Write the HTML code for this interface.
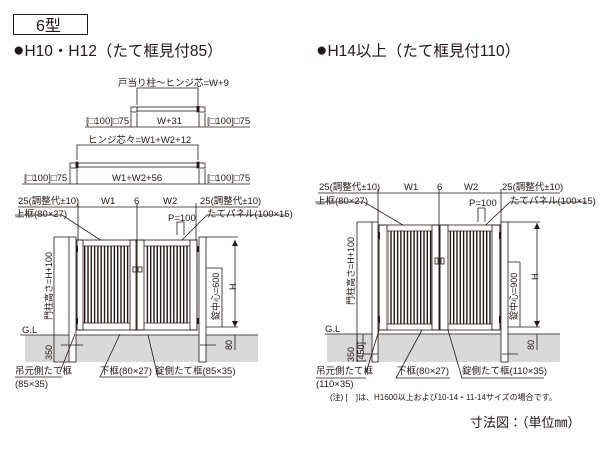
<!DOCTYPE html>
<html><head><meta charset="utf-8"><style>
body{margin:0;background:#fff}
svg{display:block}
text{font-family:"Liberation Sans","Noto Sans CJK JP",sans-serif;fill:#231815}
</style></head><body>
<svg width="600" height="450" viewBox="0 0 600 450" xmlns="http://www.w3.org/2000/svg">
<defs>
<pattern id="sl" x="84" y="0" width="3.3" height="10" patternUnits="userSpaceOnUse"><rect x="0" y="0" width="1.4" height="10" fill="#231815"/></pattern>
<pattern id="sl2" x="387" y="0" width="3.3" height="10" patternUnits="userSpaceOnUse"><rect x="0" y="0" width="1.4" height="10" fill="#231815"/></pattern>
</defs>
<rect x="13.5" y="14.5" width="74" height="20" fill="none" stroke="#231815" stroke-width="1"/>
<text x="36" y="31" font-size="16">6型</text>
<text x="13" y="56" font-size="15.5"><tspan font-size="19">●</tspan>H10・H12（たて框見付85）</text>
<text x="316" y="56" font-size="15.5"><tspan font-size="19">●</tspan>H14以上（たて框見付110）</text>

<g stroke="#231815" fill="none" stroke-width="0.8">
<path d="M137 105V88H198V105"/>
<rect x="137" y="107" width="62" height="4"/>
<rect x="131" y="107" width="6" height="5" fill="#fff"/>
<rect x="199" y="107" width="6" height="5" fill="#fff"/>
<rect x="197" y="106" width="2" height="6" fill="#231815"/>
<path d="M85 127H250M131 113V127M137 113V127M199 113V127M205 113V127"/>
<path d="M77 160V145H198V160"/>
<rect x="77" y="163" width="122" height="4"/>
<rect x="70" y="163" width="6" height="5" fill="#fff"/>
<rect x="199" y="163" width="6" height="5" fill="#fff"/>
<rect x="76" y="162" width="2" height="6" fill="#231815"/><rect x="197" y="162" width="2" height="6" fill="#231815"/>
<path d="M22 184H250M70 169V184M77 169V184M199 169V184M205 169V184"/>
</g>
<g font-size="9.5">
<text x="118" y="86">戸当り柱～ヒンジ芯=W+9</text>
<text x="86" y="124">[□100]□75</text><text x="157" y="124">W+31</text><text x="207" y="124">[□100]□75</text>
<text x="88" y="143">ヒンジ芯々=W1+W2+12</text>
<text x="24" y="181">[□100]□75</text><text x="112" y="181">W1+W2+56</text><text x="207" y="181">[□100]□75</text>
</g>

<rect x="25" y="335" width="233" height="27" fill="#d9d9d9"/>
<g stroke="#231815" fill="none" stroke-width="0.8">
<path d="M18 207H258M78 203V240M137 203V240M196 203V240"/>
<path d="M15 215H62L105 243M287 215H207L172 250"/>
<path d="M20 335H258"/>
<path d="M54 237V362M54 237H69M54 362H69"/>
<rect x="69" y="237" width="7" height="125" fill="#fff"/>
<rect x="199" y="237" width="7" height="125" fill="#fff"/>
<rect x="77" y="240" width="59" height="90" fill="#fff"/>
<rect x="137" y="240" width="60" height="90" fill="#fff"/>
<rect x="77" y="240" width="6" height="90"/>
<rect x="190" y="240" width="7" height="90"/>
<rect x="130" y="240" width="7" height="90"/>
<rect x="137" y="240" width="7" height="90"/>
<path d="M83 246H130M83 323H130M144 246H190M144 323H190"/>
<rect x="133" y="267" width="4" height="5"/><rect x="138" y="267" width="4" height="5"/>
<path d="M206 237H238M206 327H238M235 240V327M206 268H222M222 268V327"/>
<path d="M235 335V350M200 345H216"/>
<path d="M177 235V222H184V235"/>
<path d="M75 334L60 372M15 377H62M120 334L100 377H148M148 335L158 377H232"/>
<path d="M61 345H83"/>
</g>
<rect x="84" y="246" width="46" height="77" fill="url(#sl)"/>
<rect x="145" y="246" width="45" height="77" fill="url(#sl)"/>
<rect x="76" y="246" width="2" height="6" fill="#231815"/><rect x="76" y="318" width="2" height="6" fill="#231815"/>
<rect x="197" y="246" width="2" height="6" fill="#231815"/><rect x="197" y="318" width="2" height="6" fill="#231815"/>
<path d="M235 240l-3 6h6zM235 327l-3-6h6z" fill="#231815"/>
<g font-size="9.5">
<text x="18" y="204">25(調整代±10)</text><text x="101" y="204">W1</text><text x="134" y="204">6</text><text x="163" y="204">W2</text><text x="200" y="204">25(調整代±10)</text>
<text x="15" y="217">上框(80×27)</text><text x="207" y="217">たてパネル(100×15)</text>
<text x="168" y="221">P=100</text>
<text x="22" y="333">G.L</text>
<text x="15" y="374">吊元側たて框</text><text x="15" y="387">(85×35)</text>
<text x="100" y="374">下框(80×27)</text><text x="155" y="374">錠側たて框(85×35)</text>
<text transform="translate(52,320) rotate(-90)" font-size="9">門柱高さ=H+100</text>
<text transform="translate(52,360) rotate(-90)" font-size="9">350</text>
<text transform="translate(232,350) rotate(-90)" font-size="9">80</text>
<text transform="translate(236,290) rotate(-90)" font-size="9">H</text>
<text transform="translate(219,320) rotate(-90)" font-size="9">錠中心=600</text>
</g>

<rect x="327" y="334" width="233" height="28" fill="#d9d9d9"/>
<g stroke="#231815" fill="none" stroke-width="0.8">
<path d="M318 193H560M378 189V225M439 189V225M501 189V225"/>
<path d="M315 202H364L408 228M587 202H510L475 235"/>
<path d="M325 334H560"/>
<path d="M357 222V362M357 222H372"/>
<path d="M357 334V362M363 334V350"/>
<rect x="372" y="222" width="6" height="140" fill="#fff"/>
<rect x="501" y="222" width="7" height="140" fill="#fff"/>
<rect x="379" y="225" width="60" height="105" fill="#fff"/>
<rect x="440" y="225" width="60" height="105" fill="#fff"/>
<rect x="379" y="225" width="8" height="105"/>
<rect x="492" y="225" width="8" height="105"/>
<rect x="432" y="225" width="7" height="105"/>
<rect x="440" y="225" width="8" height="105"/>
<path d="M387 231H432M387 324H432M448 231H492M448 324H492"/>
<rect x="435" y="258" width="3" height="6"/><rect x="441" y="258" width="3" height="6"/>
<path d="M508 222H540M508 327H540M537 223V327M508 262H520M520 262V327"/>
<path d="M537 334V350M502 354H518M362 354H378"/>
<path d="M478 222V208H485V222"/>
<path d="M379 330L366 373M316 378H366M422 330L396 378H450M448 330L462 378H544"/>
</g>
<rect x="388" y="231" width="44" height="93" fill="url(#sl2)"/>
<rect x="449" y="231" width="43" height="93" fill="url(#sl2)"/>
<rect x="378" y="232" width="2" height="7" fill="#231815"/><rect x="378" y="316" width="2" height="7" fill="#231815"/>
<rect x="499" y="232" width="2" height="7" fill="#231815"/><rect x="499" y="316" width="2" height="7" fill="#231815"/>
<path d="M537 223l-3 6h6zM537 327l-3-6h6z" fill="#231815"/>
<g font-size="9.5">
<text x="319" y="190">25(調整代±10)</text><text x="404" y="190">W1</text><text x="437" y="190">6</text><text x="464" y="190">W2</text><text x="502" y="190">25(調整代±10)</text>
<text x="316" y="204">上框(80×27)</text><text x="510" y="204">たてパネル(100×15)</text>
<text x="469" y="206">P=100</text>
<text x="325" y="332">G.L</text>
<text x="316" y="374">吊元側たて框</text><text x="316" y="387">(110×35)</text>
<text x="397" y="374">下框(80×27)</text><text x="462" y="374">錠側たて框(110×35)</text>
<text x="330" y="400" font-size="8">(注) [　]は、H1600以上および10-14・11-14サイズの場合です。</text>
<text transform="translate(354,305) rotate(-90)" font-size="9">門柱高さ=H+100</text>
<text transform="translate(354,362) rotate(-90)" font-size="9">350</text>
<text transform="translate(364,362) rotate(-90)" font-size="9">[450]</text>
<text transform="translate(534,350) rotate(-90)" font-size="9">80</text>
<text transform="translate(538,280) rotate(-90)" font-size="9">H</text>
<text transform="translate(517,320) rotate(-90)" font-size="9">錠中心=900</text>
</g>
<text x="470" y="427" font-size="13">寸法図：（単位㎜）</text>
</svg>
</body></html>
